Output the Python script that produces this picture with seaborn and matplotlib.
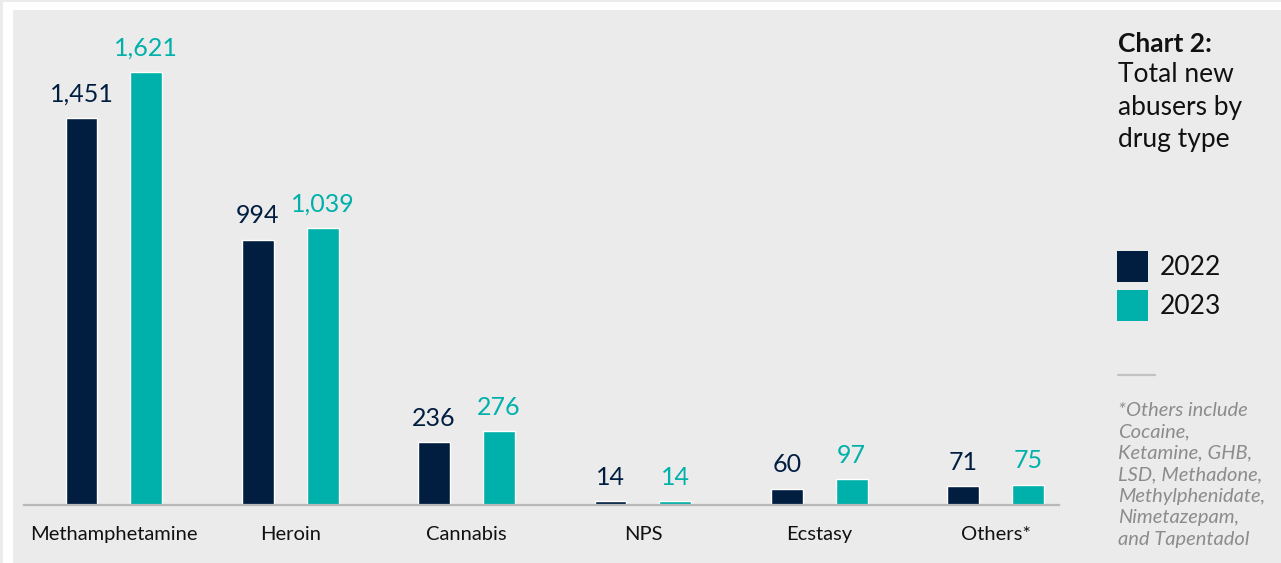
import numpy as np
import pandas as pd
import matplotlib.pyplot as plt
import matplotlib.patches as mpatches
import seaborn as sns

# data
drugs = ["Methamphetamine", "Heroin", "Cannabis", "NPS", "Ecstasy", "Others*"]
years = ["2022", "2023"]
abusers_2022 = [1451, 994, 236, 14, 60, 71]
abusers_2023 = [1621, 1039, 276, 14, 97, 75]

navy = "#011e41"
teal = "#00b0aa"
panel = "#ebebeb"

df = pd.DataFrame({
    "drug": drugs * 2,
    "year": [years[0]] * len(drugs) + [years[1]] * len(drugs),
    "count": abusers_2022 + abusers_2023,
})

sns.set_theme(style="white")
plt.rcParams["font.family"] = ["Lato", "DejaVu Sans"]

W, H = 1281, 563
fig = plt.figure(figsize=(W / 100, H / 100), dpi=100)
fig.patch.set_facecolor(panel)

# white frame + inner grey panel
fig.patches.append(mpatches.Rectangle((3 / W, 0), 1, 1 - 2 / H, transform=fig.transFigure,
                                      facecolor="white", edgecolor="none", zorder=-2))
fig.patches.append(mpatches.Rectangle((13 / W, 0), 1, 1 - 10 / H, transform=fig.transFigure,
                                      facecolor=panel, edgecolor="none", zorder=-1))

ax = fig.add_axes([24 / W, 58 / H, (1059 - 24) / W, (505 - 10) / H])
ax.set_facecolor("none")

sns.barplot(data=df, x="drug", y="count", hue="year", palette=[navy, teal],
            width=0.736, gap=0.51, ax=ax, legend=False, saturation=1)

for cont, col in zip(ax.containers, [navy, teal]):
    ax.bar_label(cont, labels=["{:,}".format(int(v)) for v in cont.datavalues],
                 padding=9, fontsize=18, color=col)

ax.set_xlim(-0.51, 5.36)
ax.set_ylim(0, 1855)
ax.set_xlabel("")
ax.set_ylabel("")
ax.set_yticks([])
ax.tick_params(axis="x", length=0, pad=15, labelsize=14.5, labelcolor="#111111")
for s in ["top", "right", "left"]:
    ax.spines[s].set_visible(False)
ax.spines["bottom"].set_color("#b9b9b9")
ax.spines["bottom"].set_linewidth(1.6)

# side panel text
x0 = 1118 / W
fig.text(x0, 1 - 44 / H, "Chart 2:", fontsize=19, fontweight="bold", color="#111111", va="center")
for i, line in enumerate(["Total new", "abusers by", "drug type"]):
    fig.text(x0, 1 - (75 + 32 * i) / H, line, fontsize=19, color="#111111", va="center")

# legend
for i, (yr, col) in enumerate(zip(years, [navy, teal])):
    top = 251 + 39 * i
    fig.patches.append(mpatches.Rectangle((1117 / W, 1 - (top + 31) / H), 31 / W, 31 / H,
                                          transform=fig.transFigure, facecolor=col, edgecolor="none"))
    fig.text(1160 / W, 1 - (top + 16) / H, yr, fontsize=19, color="#111111", va="center")

fig.add_artist(plt.Line2D([1118 / W, 1155 / W], [1 - 375 / H, 1 - 375 / H],
                          transform=fig.transFigure, color="#c2c2c2", lw=1.6))

notes = ["*Others include", "Cocaine,", "Ketamine, GHB,", "LSD, Methadone,",
         "Methylphenidate,", "Nimetazepam,", "and Tapentadol"]
for i, line in enumerate(notes):
    fig.text(x0, 1 - (410 + 21.6 * i) / H, line, fontsize=14.5, style="italic",
             color="#8c8c8c", va="center")

fig.savefig("out.png", dpi=100, facecolor=fig.get_facecolor())
